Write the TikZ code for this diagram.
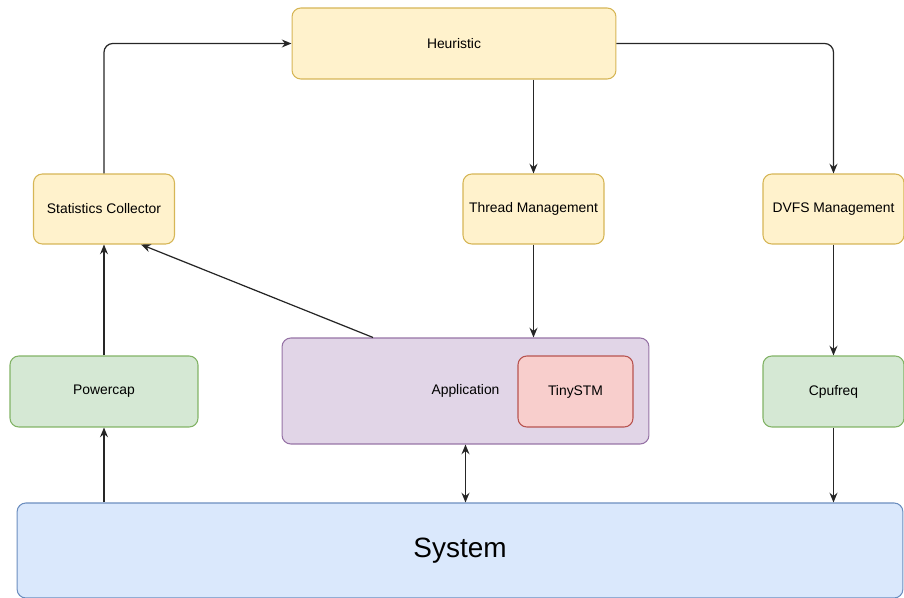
\documentclass[tikz,border=0pt]{standalone}
\usepackage{fontspec}
\setmainfont{Liberation Sans}
\usetikzlibrary{arrows.meta}

\definecolor{yelFill}{HTML}{FFF2CC}
\definecolor{yelDraw}{HTML}{D6B656}
\definecolor{grnFill}{HTML}{D5E8D4}
\definecolor{grnDraw}{HTML}{82B366}
\definecolor{purFill}{HTML}{E1D5E7}
\definecolor{purDraw}{HTML}{9673A6}
\definecolor{redFill}{HTML}{F8CECC}
\definecolor{redDraw}{HTML}{B85450}
\definecolor{bluFill}{HTML}{DAE8FC}
\definecolor{bluDraw}{HTML}{6C8EBF}

\begin{document}
\begin{tikzpicture}[
    x=0.02cm, y=-0.02cm,
    block/.style={
        rectangle,
        rounded corners=5pt,
        draw=yelDraw,
        fill=yelFill,
        line width=0.6pt,
        minimum width=2.82cm,
        minimum height=1.4cm,
        align=center,
        font=\fontsize{7.9}{9.5}\selectfont
    },
    arrow/.style={
        -{Stealth[length=5.5pt,width=4.5pt]},
        line width=0.7pt,
        black!85
    }
]
\useasboundingbox (0,0) rectangle (904,598);

% Blocchi
\node[block, minimum width=6.48cm, minimum height=1.42cm] (heur) at (454,43.5) {Heuristic};
\node[block] (stats) at (104,209) {Statistics Collector};
\node[block] (thread) at (533.5,209) {Thread Management};
\node[block] (dvfs) at (833.5,209) {DVFS Management};
\node[block, fill=grnFill, draw=grnDraw, minimum width=3.76cm, minimum height=1.42cm] (power) at (104,391.5) {Powercap};
\node[block, fill=purFill, draw=purDraw, minimum width=7.34cm, minimum height=2.12cm] (app) at (465.5,391) {Application};
\node[block, fill=redFill, draw=redDraw, minimum width=2.3cm, minimum height=1.42cm] (tiny) at (575.5,391.5) {TinySTM};
\node[block, fill=grnFill, draw=grnDraw, minimum height=1.42cm] (cpufreq) at (833.5,391.5) {Cpufreq};
\node[block, fill=bluFill, draw=bluDraw, minimum width=17.72cm, minimum height=1.9cm,
      font=\fontsize{15.9}{18}\selectfont] (sys) at (460,550.5) {System};

% Frecce
\draw[arrow, rounded corners=5pt] (stats.north) |- (heur.west);
\draw[arrow, rounded corners=5pt] (heur.east) -| (dvfs.north);
\draw[arrow] (heur.south -| thread.north) -- (thread.north);
\draw[arrow] (thread.south) -- (thread.south |- app.north);
\draw[arrow] ([xshift=-1.85cm]app.north) -- ([xshift=0.74cm]stats.south);
\draw[arrow] (power.north) -- (stats.south);
\draw[arrow] (power.south |- sys.north) -- (power.south);
\draw[arrow, {Stealth[length=5.5pt,width=4.5pt]}-{Stealth[length=5.5pt,width=4.5pt]}] (app.south) -- (app.south |- sys.north);
\draw[arrow] (dvfs.south) -- (cpufreq.north);
\draw[arrow] (cpufreq.south) -- (cpufreq.south |- sys.north);

\end{tikzpicture}
\end{document}
